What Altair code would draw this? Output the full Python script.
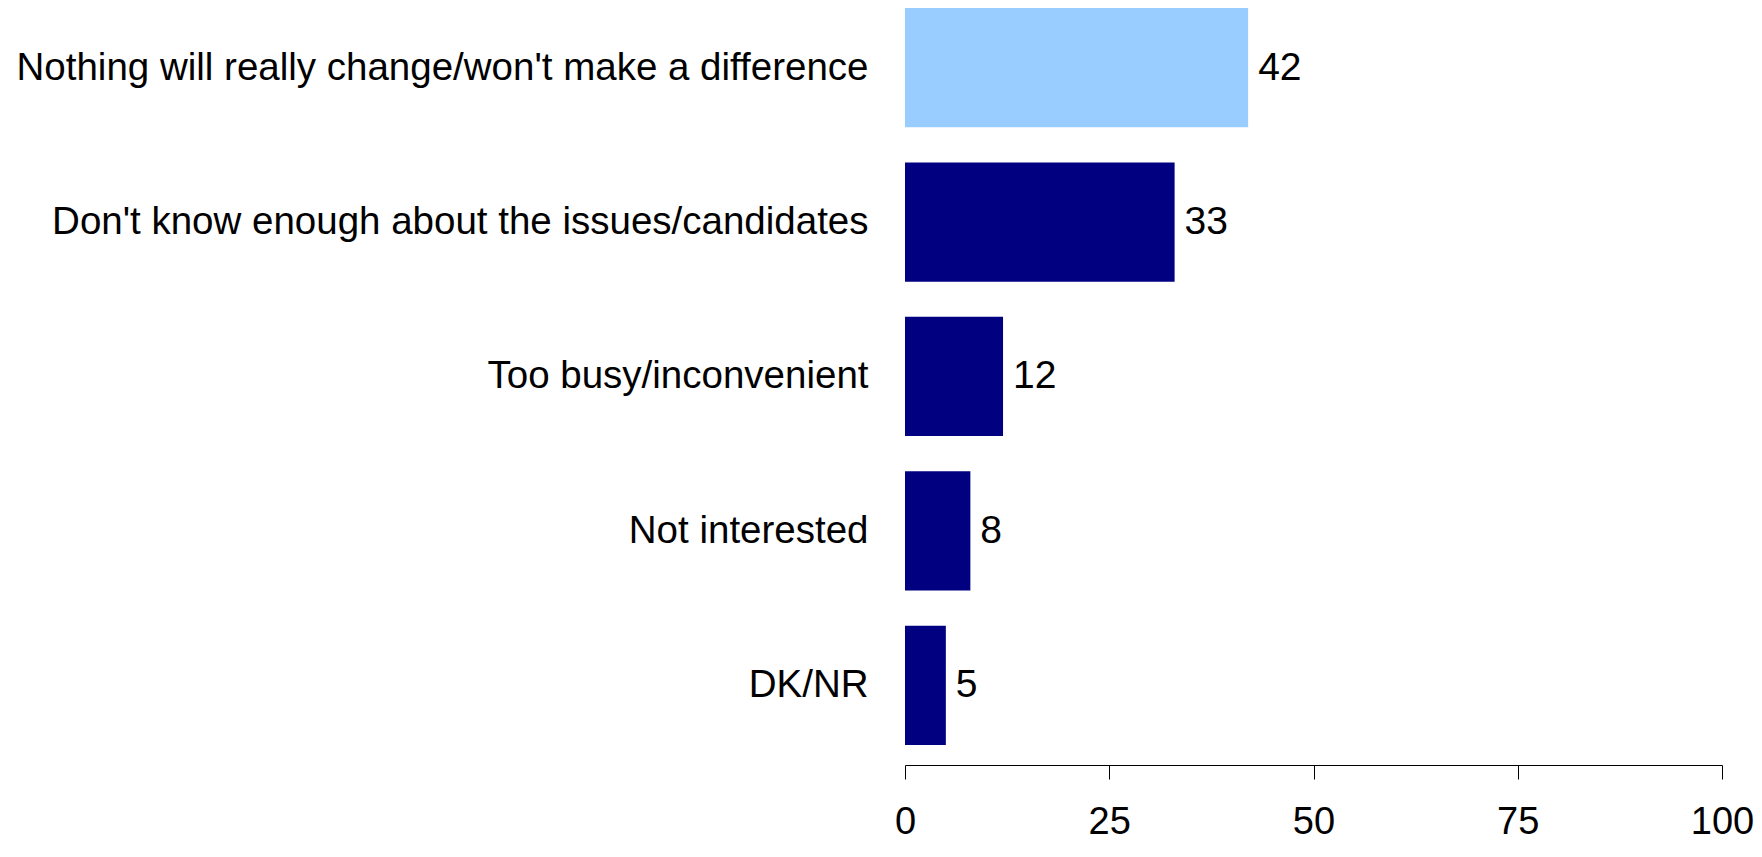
import altair as alt
import pandas as pd

categories = [
    "Nothing will really change/won't make a difference",
    "Don't know enough about the issues/candidates",
    "Too busy/inconvenient",
    "Not interested",
    "DK/NR",
]
values = [42, 33, 12, 8, 5]
groups = ["highlight", "other", "other", "other", "other"]
x_ticks = [0, 25, 50, 75, 100]

df = pd.DataFrame({"category": categories, "value": values, "group": groups})

FONT = "Liberation Sans, Arial, sans-serif"

y_enc = alt.Y(
    "category:N",
    sort=categories,
    title=None,
    scale=alt.Scale(paddingInner=0.228, paddingOuter=0.065, align=0),
    axis=alt.Axis(
        domain=False,
        ticks=False,
        labelPadding=37,
        labelFont=FONT,
        labelFontSize=38.5,
        labelColor="black",
        labelLimit=1000,
    ),
)

x_enc = alt.X(
    "value:Q",
    title=None,
    scale=alt.Scale(domain=[0, 100], nice=False, zero=True),
    axis=alt.Axis(
        values=x_ticks,
        grid=False,
        domainColor="black",
        domainWidth=1,
        tickColor="black",
        tickSize=14,
        tickWidth=1,
        labelFont=FONT,
        labelFontSize=38,
        labelColor="black",
        labelPadding=24,
        labelFlush=False,
        labelOverlap=False,
    ),
)

bars = alt.Chart(df).mark_bar().encode(
    x=x_enc,
    y=y_enc,
    color=alt.Color(
        "group:N",
        scale=alt.Scale(domain=["highlight", "other"], range=["#99CCFF", "#000080"]),
        legend=None,
    ),
)

labels = alt.Chart(df).mark_text(
    align="left", baseline="middle", dx=10, font=FONT, fontSize=39, color="black"
).encode(
    x=alt.X("value:Q", scale=alt.Scale(domain=[0, 100], nice=False)),
    y=alt.Y("category:N", sort=categories),
    text=alt.Text("value:Q"),
)

chart = (
    alt.layer(bars, labels)
    .properties(
        width=817,
        height=757,
        background="white",
        autosize=alt.AutoSizeParams(type="none"),
        padding={"left": 897, "top": 0, "right": 32, "bottom": 80},
    )
    .configure_view(stroke=None, strokeWidth=0)
)

chart.save("out.html", embed_options={"renderer": "svg", "actions": False})
